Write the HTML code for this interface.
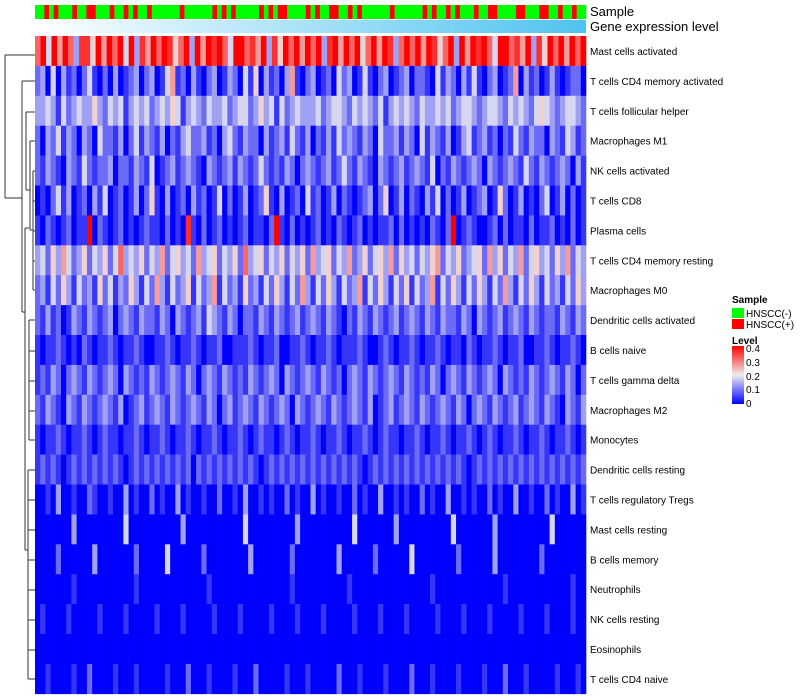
<!DOCTYPE html>
<html><head><meta charset="utf-8">
<style>
body{margin:0;background:#fff;font-family:"Liberation Sans",sans-serif;}
#c{position:absolute;left:0;top:0;width:800px;height:700px;}
</style></head>
<body>
<svg id="c" width="800" height="700">
<defs>
<linearGradient id="geneGrad" x1="0" x2="1" y1="0" y2="0">
<stop offset="0" stop-color="#ffffff"/><stop offset="1" stop-color="#4fc3f0"/>
</linearGradient>
<linearGradient id="levelGrad" x1="0" x2="0" y1="1" y2="0">
<stop offset="0" stop-color="#0000ff"/><stop offset="0.5" stop-color="#eeeeee"/><stop offset="1" stop-color="#ff0000"/>
</linearGradient>
</defs>
<g id="sampleBar"></g>
<rect x="35" y="20" width="551" height="13" fill="url(#geneGrad)"/>
<text x="590" y="16" font-size="13">Sample</text>
<text x="590" y="31" font-size="13">Gene expression level</text>
<g id="cells"></g>
<g id="labels"></g>
<g id="dendro" stroke="#333" stroke-width="1" fill="none">
<path d="M5 55 V198 M5 55 H35 M5 198 H22"/>
<path d="M22 81 V312 M22 81 H35 M22 312 H25"/>
<path d="M26 112 V190 M26 112 H35 M26 190 H30 M30 141 V230 M30 141 H35 M30 230 H33 M33 171 V290 M33 171 H35 M33 201 H35 M33 231 H35 M33 261 H35 M33 290 H35"/>
<path d="M25 228 V550 M25 228 H29 M25 550 H28"/>
<path d="M29 320 V440 M29 320 H35 M29 351 H35 M29 381 H35 M29 411 H35 M29 440 H35"/>
<path d="M28 470 V679 M28 470 H35 M28 500 H35 M28 530 H35 M28 560 H35 M28 590 H35 M28 620 H35 M28 650 H35 M28 679 H35"/>
</g>
<g>
<text x="732" y="303" font-size="10" font-weight="bold">Sample</text>
<rect x="732" y="308" width="12" height="10" fill="#00ff00"/>
<text x="746" y="317" font-size="10">HNSCC(-)</text>
<rect x="732" y="319" width="12" height="10" fill="#ff0000"/>
<text x="746" y="328" font-size="10">HNSCC(+)</text>
<text x="732" y="344" font-size="10" font-weight="bold">Level</text>
<rect x="732" y="346" width="12" height="58" fill="url(#levelGrad)"/>
<g font-size="10">
<text x="746" y="352">0.4</text><text x="746" y="366">0.3</text><text x="746" y="380">0.2</text><text x="746" y="393">0.1</text><text x="746" y="407">0</text>
</g>
</g>
</svg>
<script>
const rowNames=["Mast cells activated","T cells CD4 memory activated","T cells follicular helper","Macrophages M1","NK cells activated","T cells CD8","Plasma cells","T cells CD4 memory resting","Macrophages M0","Dendritic cells activated","B cells naive","T cells gamma delta","Macrophages M2","Monocytes","Dendritic cells resting","T cells regulatory  Tregs","Mast cells resting","B cells memory","Neutrophils","NK cells resting","Eosinophils","T cells CD4 naive"];
const sampleGroups="0010100010011000100101001000000100000010101000001010110000101001100101000000100000010100101000100110000110001100100100";
const rowValues=[
"7949697388596979493869798579396989749978693859796979389697957969837979698579396989749978693859796979",
"2304031202410203012302301461203102301320415031203610230120423014102301230221041320314102301260312013101220",
"3343142343353243413434234354134324334234423534142343334234432434324134343243343423443234432434324543234432",
"2032413203204221302413213021342231203421322031231421302131423213204223132041321301341231202142132203214312",
"2132103214212230221321401231232103212313212421213202321231242132103212312321402132123203212321421321232031",
"0102413012031401201302510301203120140201301251030120412013021012302501302103140201301230152013010240130201",
"1021012011902101201012110201081020120101201102910201012010210120101120201010210290121001202011020112010201",
"3425364235243524734352436245342634524352734524352435263452436235245362534243562435234526352436245342536243",
"2314253142315241325314263142351423614231523142531426314253142361425314251423614253142531426314253142314253",
"2131201321321230232132213203212314321320221321321231232132102132132123123213213221320321231232132122132132",
"1011210102101121011210011210112101120011121011200112101121011121001210112101121011021011210112001121011210",
"1213202321321232032121321232132023213212132123203212321321202321321232132121320232132123203212132123213202",
"2132103213212321301231232132123213202312321321232032123213212321301231232132123213202321321231232132103213",
"1011210112101211011210112101121011210112101211012101121011210112101211011210112101121012101121011210112101",
"1212101212121212101212121212120212121212121012121212121212121210121212121212121212101212121212121212121212",
"0010300100210010030100201003010010020010300101002010030100100201003001010020100300101002010030010020100301",
"0000000300000000040000000000300000000000400000000030000000000400000003000000000040000000300000000004000000",
"0000200000030000000200000400000020000000030000000200000000300000020000004000000002000000300000000200000000",
"0000000100000000000100000000000001000000000000000100000000001000000000000000100000000000001000000000000100",
"0100001000001000010000010000100000100001000001000010000100000100001000010000010000100001000001000010000100",
"0000000000000000000000000000000000000000000000000000000000000000000000000000000000000000000000000000000000",
"0010000100200001000100000100020001000010002000001000100000200010000100002000100001000010002000100000100010"
];
const valueStep=0.045;
const x0=35,x1=586,y0=36,rowH=29.9;
const svgNS="http://www.w3.org/2000/svg";
function colorFor(v){
  const t=Math.max(0,Math.min(1,v/0.4));
  let r,g,b;
  if(t<0.5){const s=t/0.5;r=Math.round(238*s);g=Math.round(238*s);b=Math.round(255-17*s);}
  else{const s=(t-0.5)/0.5;r=Math.round(238+17*s);g=Math.round(238*(1-s));b=Math.round(238*(1-s));}
  return `rgb(${r},${g},${b})`;
}
const sb=document.getElementById('sampleBar');
const sw=(x1-x0)/sampleGroups.length;
for(let i=0;i<sampleGroups.length;i++){
  const r=document.createElementNS(svgNS,'rect');
  r.setAttribute('x',x0+i*sw);r.setAttribute('y',5);r.setAttribute('width',sw+0.3);r.setAttribute('height',14);
  r.setAttribute('fill',sampleGroups[i]==='1'?'#ff0000':'#00ff00');
  
  
  sb.appendChild(r);
}
const cg=document.getElementById('cells'),lg=document.getElementById('labels');
rowValues.forEach((row,ri)=>{
  const cw=(x1-x0)/row.length;
  for(let j=0;j<row.length;j++){
    const v=parseInt(row[j],10)*valueStep;
    const r=document.createElementNS(svgNS,'rect');
    r.setAttribute('x',x0+j*cw);r.setAttribute('y',y0+ri*rowH);
    r.setAttribute('width',cw+0.3);r.setAttribute('height',rowH+0.3);
    r.setAttribute('fill',colorFor(v));
    
    
    cg.appendChild(r);
  }
  const t=document.createElementNS(svgNS,'text');
  t.setAttribute('x',590);t.setAttribute('y',y0+ri*rowH+rowH/2+4);
  t.setAttribute('font-size','10');
  t.textContent=rowNames[ri];
  
  
  lg.appendChild(t);
});
</script>
</body></html>
